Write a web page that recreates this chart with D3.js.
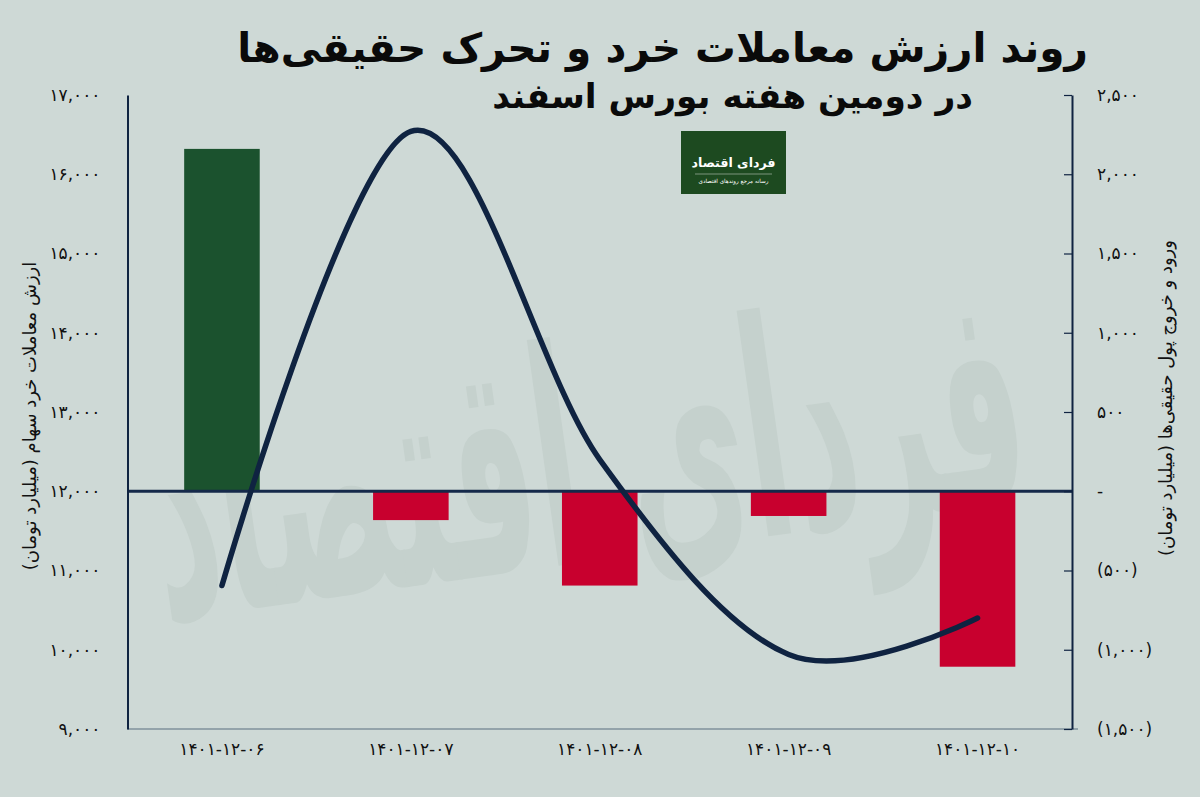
<!DOCTYPE html>
<html>
<head>
<meta charset="utf-8">
<script src="https://cdn.jsdelivr.net/npm/d3@7"></script>
<style>
  html, body { margin: 0; padding: 0; background: #ced9d6; }
  svg { display: block; }
  text { font-family: "DejaVu Sans", sans-serif; }
</style>
</head>
<body>
<svg id="chart" width="1200" height="797"></svg>
<script>
// ---- Data ----
const categories = ["1401-12-06", "1401-12-07", "1401-12-08", "1401-12-09", "1401-12-10"];
// retail trading value (billion toman) - left axis, line
const tradeValue = [10810, 16540, 12400, 9940, 10400];
// real-money inflow/outflow (billion toman) - right axis, bars
const netFlow = [2160, -182, -595, -156, -1107];
const leftTicks = [9000, 10000, 11000, 12000, 13000, 14000, 15000, 16000, 17000];
const rightTicks = [-1500, -1000, -500, 0, 500, 1000, 1500, 2000, 2500];
const titleLines = ["روند ارزش معاملات خرد و تحرک حقیقی‌ها", "در دومین هفته بورس اسفند"];
const leftAxisTitle = "ارزش معاملات خرد سهام (میلیارد تومان)";
const rightAxisTitle = "ورود و خروج پول حقیقی‌ها (میلیارد تومان)";
const logoText = "فردای اقتصاد";
const logoSub = "رسانه مرجع روندهای اقتصادی";

// ---- Helpers ----
const faDigits = "۰۱۲۳۴۵۶۷۸۹";
const toFa = s => String(s).replace(/[0-9]/g, d => faDigits[+d]);
const fmtLeft = v => toFa(d3.format(",")(v));
const fmtRight = v => v === 0 ? "-" : (v < 0 ? "(" + toFa(d3.format(",")(-v)) + ")" : toFa(d3.format(",")(v)));

const svg = d3.select("#chart");
const W = 1200, H = 797;
const plot = { left: 127.5, right: 1072, top: 95, bottom: 729 };

svg.append("rect").attr("width", W).attr("height", H).attr("fill", "#ced9d6");

// watermark
svg.append("text")
  .attr("transform", "translate(600,560) rotate(-8)")
  .attr("text-anchor", "middle")
  .attr("font-size", 300)
  .attr("font-weight", "bold")
  .attr("fill", "#c5d1cd")
  .attr("textLength", 880)
  .attr("lengthAdjust", "spacingAndGlyphs")
  .attr("direction", "rtl")
  .text(logoText);

// ---- Scales ----
const x = d3.scaleBand().domain(categories).range([plot.left, plot.right]).paddingInner(0.6).paddingOuter(0.3);
const yL = d3.scaleLinear().domain([9000, 17000]).range([plot.bottom, plot.top]);
const yR = d3.scaleLinear().domain([-1500, 2500]).range([plot.bottom, plot.top]);

// bottom gray axis line
svg.append("line").attr("x1", plot.left).attr("x2", plot.right + 6)
  .attr("y1", plot.bottom).attr("y2", plot.bottom)
  .attr("stroke", "#7f909b").attr("stroke-width", 1.5);

// ---- Bars ----
svg.append("g").selectAll("rect").data(netFlow).join("rect")
  .attr("x", (d, i) => x(categories[i]))
  .attr("width", x.bandwidth())
  .attr("y", d => d >= 0 ? yR(d) : yR(0))
  .attr("height", d => Math.abs(yR(d) - yR(0)))
  .attr("fill", d => d >= 0 ? "#1b522e" : "#c8002e");

// zero line
svg.append("line").attr("x1", plot.left).attr("x2", plot.right)
  .attr("y1", yR(0)).attr("y2", yR(0))
  .attr("stroke", "#15294a").attr("stroke-width", 3);

// ---- Axes ----
const axL = svg.append("g").attr("transform", `translate(${plot.left},0)`)
  .call(d3.axisLeft(yL).tickValues(leftTicks).tickSize(0).tickPadding(27).tickFormat(fmtLeft));
axL.select(".domain").attr("stroke", "#0f2341").attr("stroke-width", 2);
axL.selectAll("text").attr("font-size", 17).attr("fill", "#111").attr("direction", "ltr")
  .attr("text-anchor", "end");

const axR = svg.append("g").attr("transform", `translate(${plot.right},0)`)
  .call(d3.axisRight(yR).tickValues(rightTicks).tickSize(0).tickPadding(25).tickFormat(fmtRight));
axR.select(".domain").attr("stroke", "#0f2341").attr("stroke-width", 2);
axR.selectAll("text").attr("font-size", 17).attr("fill", "#111").attr("direction", "ltr")
  .attr("text-anchor", "start");
axR.selectAll(".tick line").attr("x1", -8).attr("x2", 0).attr("stroke", "#0f2341").attr("stroke-width", 1.2);

const axX = svg.append("g").attr("transform", `translate(0,${plot.bottom})`)
  .call(d3.axisBottom(x).tickSize(0).tickPadding(14).tickFormat(toFa));
axX.select(".domain").remove();
axX.selectAll("text").attr("font-size", 17).attr("fill", "#111").attr("direction", "ltr");

// ---- Line ----
const line = d3.line()
  .x((d, i) => x(categories[i]) + x.bandwidth() / 2)
  .y(d => yL(d))
  .curve(d3.curveCardinal.tension(0));
svg.append("path").datum(tradeValue)
  .attr("d", line)
  .attr("fill", "none")
  .attr("stroke", "#0f2341")
  .attr("stroke-width", 5.5)
  .attr("stroke-linecap", "round");

// ---- Axis titles ----
svg.append("text")
  .attr("transform", "translate(36,416) rotate(-90)")
  .attr("text-anchor", "middle").attr("direction", "rtl")
  .attr("font-size", 18).attr("fill", "#111")
  .text(leftAxisTitle);
svg.append("text")
  .attr("transform", "translate(1172,398) rotate(-90)")
  .attr("text-anchor", "middle").attr("direction", "rtl")
  .attr("font-size", 18).attr("fill", "#111")
  .text(rightAxisTitle);

// ---- Title ----
const titleSpecs = [
  { right: 1088, y: 62, width: 851 },
  { right: 973, y: 108, width: 481 }
];
titleLines.forEach((t, i) => {
  const s = titleSpecs[i];
  const el = svg.append("text")
    .attr("x", s.right).attr("y", s.y)
    .attr("text-anchor", "start").attr("direction", "rtl")
    .attr("font-size", 40).attr("font-weight", "bold").attr("fill", "#0a0a0a")
    .text(t);
  el.attr("font-size", 40 * s.width / el.node().getComputedTextLength());
});

// ---- Logo ----
const logo = svg.append("g").attr("transform", "translate(681,131)");
logo.append("rect").attr("width", 105).attr("height", 63).attr("fill", "#1d4a20");
const lt = logo.append("text").attr("x", 52.5).attr("y", 36).attr("text-anchor", "middle").attr("direction", "rtl")
  .attr("font-size", 20).attr("font-weight", "bold").attr("fill", "#fff").text(logoText);
lt.attr("font-size", 20 * 84 / lt.node().getComputedTextLength());
logo.append("line").attr("x1", 14).attr("x2", 91).attr("y1", 43).attr("y2", 43)
  .attr("stroke", "#fff").attr("stroke-width", 0.6).attr("opacity", 0.7);
const ls = logo.append("text").attr("x", 52.5).attr("y", 52).attr("text-anchor", "middle").attr("direction", "rtl")
  .attr("font-size", 6.5).attr("fill", "#fff").text(logoSub);
ls.attr("font-size", 6.5 * 70 / ls.node().getComputedTextLength());
</script>
</body>
</html>
